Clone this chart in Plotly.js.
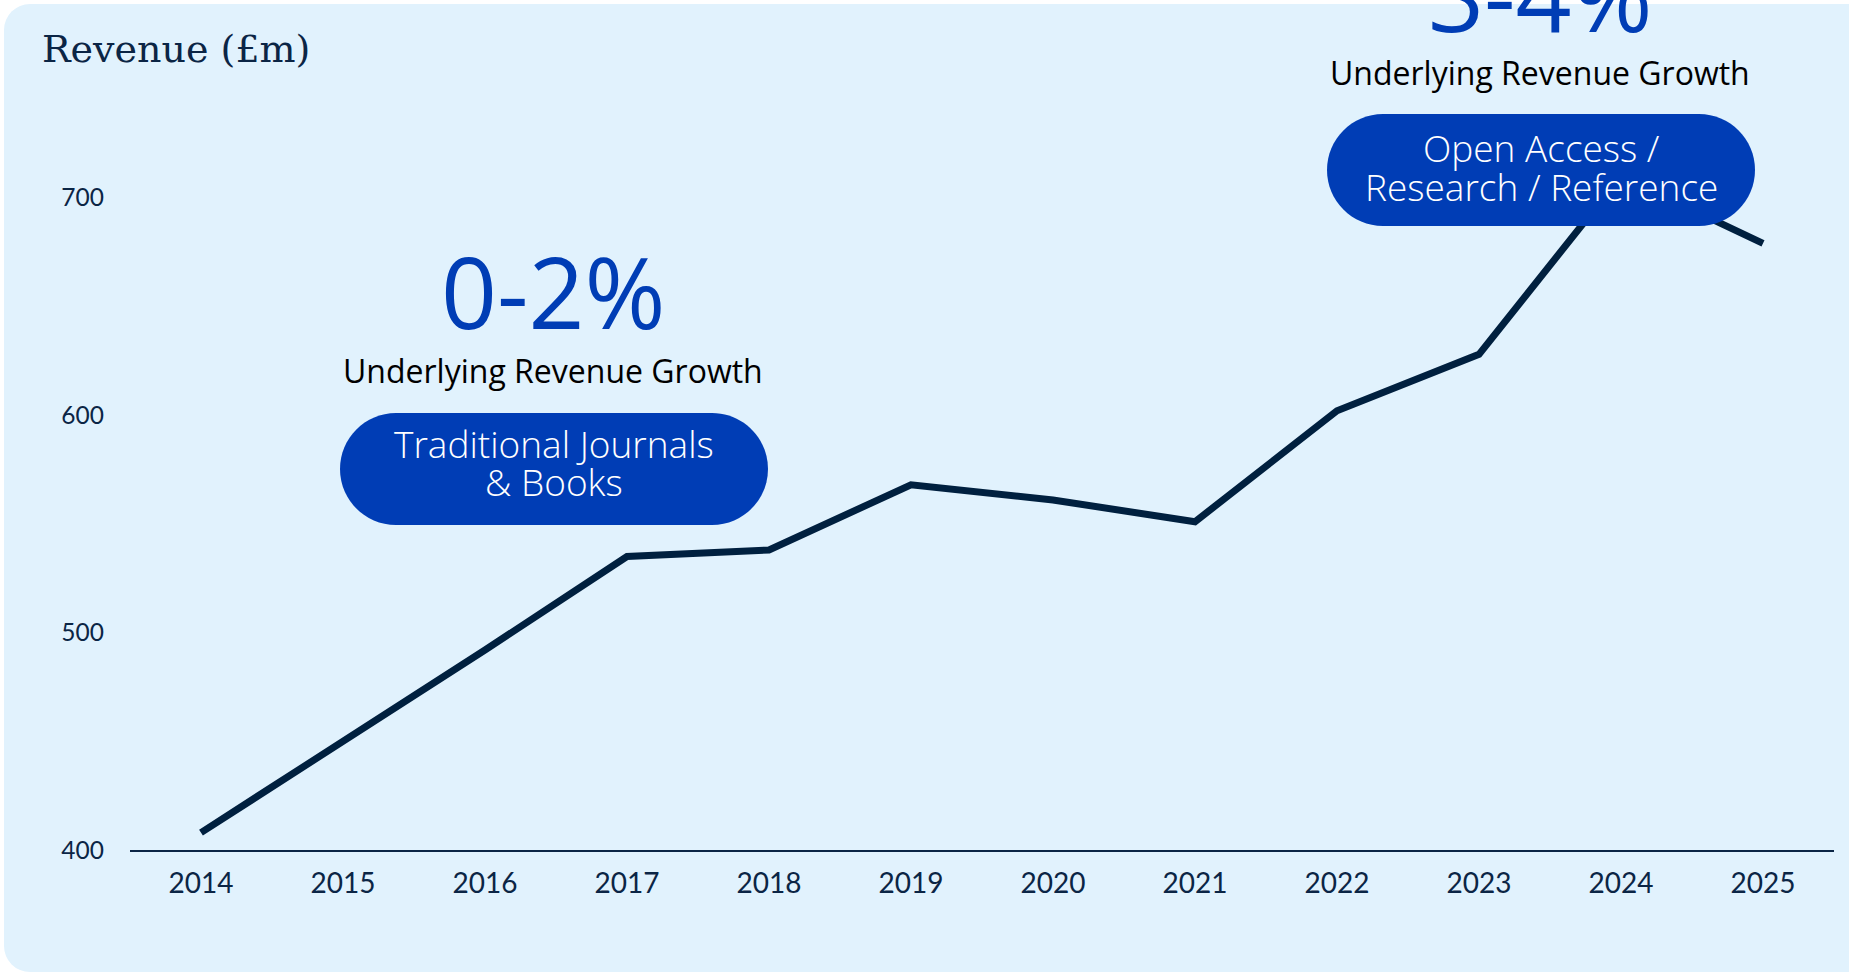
<!DOCTYPE html>
<html>
<head>
<meta charset="utf-8">
<script src="https://cdn.plot.ly/plotly-3.0.1.min.js"></script>
<style>
  html, body { margin: 0; padding: 0; background: #ffffff; width: 1849px; height: 975px; overflow: hidden; }
  #panel { position: absolute; left: 4px; top: 4px; width: 1880px; height: 968px; background: #E1F2FD; border-radius: 26px; }
  #chart { position: absolute; left: 0; top: 0; width: 1849px; height: 975px; }
</style>
</head>
<body>
<div id="panel"></div>
<div id="chart"></div>
<script>
// ---- data ----
const years = ["2014","2015","2016","2017","2018","2019","2020","2021","2022","2023","2024","2025"];
const revenue = [408, 450, 492, 535, 538, 568, 561, 551, 602, 628, 710, 679];
const yTicks = [400, 500, 600, 700];
const titleText = "Revenue (£m)";
const leftGrowth = "0-2%";
const rightGrowth = "3-4%";
const growthLabel = "Underlying Revenue Growth";
const leftSegment = ["Traditional Journals", "& Books"];
const rightSegment = ["Open Access /", "Research / Reference"];

// ---- layout helpers ----
const W = 1849, H = 975;
const M = {l: 130, r: 15, t: 67, b: 125};
const PW = W - M.l - M.r, PH = H - M.t - M.b;
const px = x => (x - M.l) / PW;
const py = y => (H - M.b - y) / PH;

const navy = "#0B2545";
const blue = "#003DB5";
const lineCol = "#00203F";

function pill(cx, cy, w, h) {
  const r = h / 2, s = w / 2 - r, k = 0.5523 * r;
  const path = `M ${-s},${-r} L ${s},${-r} C ${s + k},${-r} ${s + r},${-k} ${s + r},0 ` +
               `C ${s + r},${k} ${s + k},${r} ${s},${r} L ${-s},${r} ` +
               `C ${-s - k},${r} ${-s - r},${k} ${-s - r},0 C ${-s - r},${-k} ${-s - k},${-r} ${-s},${-r} Z`;
  return {type: "path", xref: "paper", yref: "paper", xsizemode: "pixel", ysizemode: "pixel",
          xanchor: px(cx), yanchor: py(cy), path: path,
          fillcolor: blue, line: {width: 0}, layer: "above"};
}

function ann(text, cx, cy, size, color, family, weight) {
  return {text: text, xref: "paper", yref: "paper", x: px(cx), y: py(cy),
          xanchor: "center", yanchor: "middle", showarrow: false,
          font: {size: size, color: color, family: family, weight: weight || 400}};
}

const trace = {
  x: years, y: revenue, type: "scatter", mode: "lines",
  line: {color: lineCol, width: 7}, hoverinfo: "skip"
};

const layout = {
  width: W, height: H,
  paper_bgcolor: "rgba(0,0,0,0)", plot_bgcolor: "rgba(0,0,0,0)",
  margin: M, showlegend: false,
  title: {text: titleText, xref: "container", yref: "container", x: 42 / W, xanchor: "left",
          y: 1 - 49 / H, yanchor: "middle",
          font: {family: "DejaVu Serif", size: 38, color: navy}},
  xaxis: {type: "category", range: [-0.5, 11.5], showgrid: false, zeroline: false,
          showline: true, linecolor: navy, linewidth: 1.5, ticks: "",
          tickfont: {family: "Lato", size: 28, color: navy}, ticklabelstandoff: 8, fixedrange: true},
  yaxis: {range: [400, 400 + PH / 2.174], tickvals: yTicks, showgrid: false, zeroline: false,
          showline: false, ticks: "", ticklabelstandoff: 25,
          tickfont: {family: "Lato", size: 24.5, color: navy}, fixedrange: true},
  shapes: [pill(554, 469, 428, 112), pill(1541, 170, 428, 112)],
  annotations: [
    ann(leftGrowth, 553, 291, 98, blue, "Open Sans"),
    ann(growthLabel, 553, 370, 32, "#000000", "Open Sans"),
    ann(leftSegment[0], 554, 443, 37, "#ffffff", "Open Sans", 300),
    ann(leftSegment[1], 554, 482, 37, "#ffffff", "Open Sans", 300),
    ann(rightGrowth, 1540, -6, 98, blue, "Open Sans"),
    ann(growthLabel, 1540, 73, 32, "#000000", "Open Sans"),
    ann(rightSegment[0], 1541, 147, 37, "#ffffff", "Open Sans", 300),
    ann(rightSegment[1], 1541, 187, 37, "#ffffff", "Open Sans", 300)
  ]
};

Plotly.newPlot("chart", [trace], layout, {displayModeBar: false, staticPlot: true});
</script>
</body>
</html>
